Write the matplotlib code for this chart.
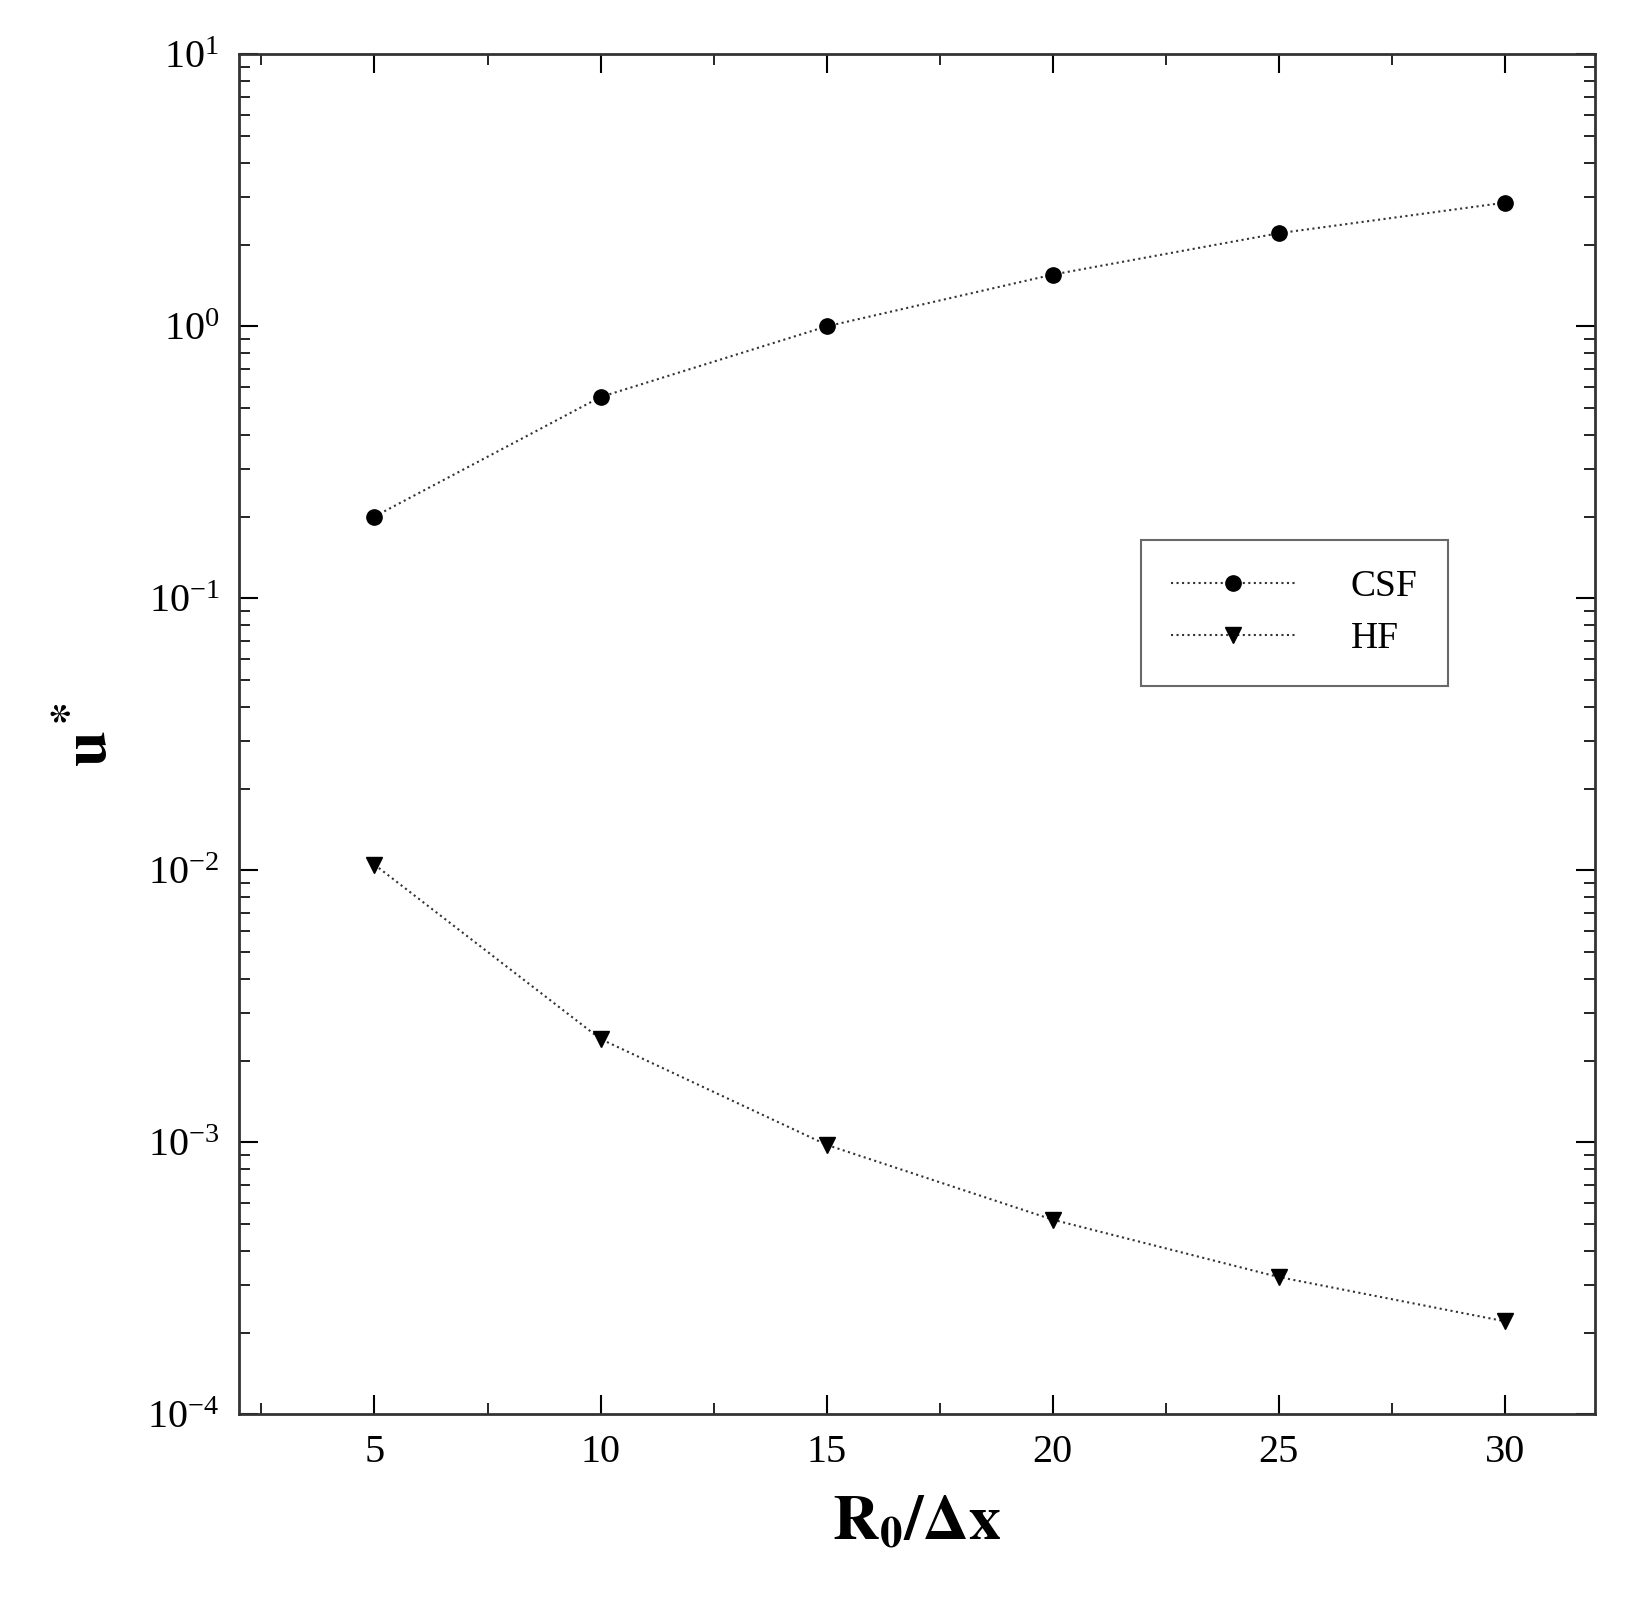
import matplotlib
matplotlib.use("Agg")
import matplotlib.pyplot as plt
from matplotlib.ticker import LogLocator, MultipleLocator, NullFormatter

x = [5, 10, 15, 20, 25, 30]
csf = [0.2, 0.55, 1.0, 1.55, 2.2, 2.85]
hf = [0.0105, 0.0024, 0.00098, 0.00052, 0.00032, 0.00022]

plt.rcParams['font.family'] = ['Liberation Serif', 'DejaVu Serif']
plt.rcParams['mathtext.fontset'] = 'stix'
fig = plt.figure(figsize=(16.36, 16), dpi=100)
ax = fig.add_axes([0.146, 0.116, 0.829, 0.85])
ax.plot(x, csf, ':', color='#333333', lw=1.5, marker='o', ms=11, mfc='black', mec='black', label='CSF')
ax.plot(x, hf, ':', color='#333333', lw=1.5, marker='v', ms=11, mfc='black', mec='black', label='HF')
ax.set_yscale('log')
ax.set_ylim(1e-4, 10)
ax.set_xlim(2, 32)
ax.xaxis.set_major_locator(MultipleLocator(5))
ax.xaxis.set_minor_locator(MultipleLocator(2.5))
ax.yaxis.set_minor_locator(LogLocator(base=10, subs=range(2, 10)))
ax.yaxis.set_minor_formatter(NullFormatter())
ax.tick_params(which='both', direction='in', top=True, right=True, labelsize=29, pad=14)
ax.tick_params(which='major', length=14, width=1.5)
ax.tick_params(which='minor', length=8, width=1.2)
for s in ax.spines.values():
    s.set_linewidth(2)
    s.set_color('#333333')
ax.set_xlabel(r'$\mathbf{R_0/\Delta x}$', fontsize=46, labelpad=18)
ax.set_ylabel(r'$\mathbf{u^*}$', fontsize=46, labelpad=20)
leg = ax.legend(loc='upper left', bbox_to_anchor=(0.665, 0.643), fontsize=27, fancybox=False,
                edgecolor='#444444', handlelength=3.3, borderpad=0.8, labelspacing=0.45,
                handletextpad=1.5, borderaxespad=0)
leg.get_frame().set_linewidth(1.5)
fig.savefig('out.png', dpi=100)
